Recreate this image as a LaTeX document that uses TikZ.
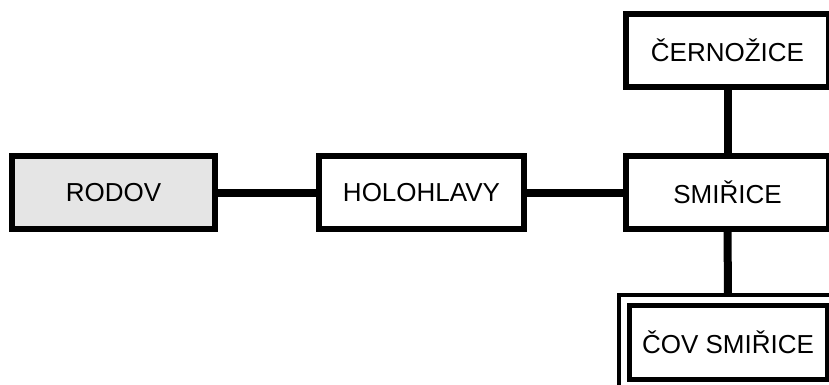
\documentclass[tikz,border=0pt]{standalone}
\usepackage{fontspec}
\setmainfont{Liberation Sans}
\begin{document}
\begin{tikzpicture}[x=1pt,y=-1pt,
  station/.style={draw=black, line width=6pt, fill=white, minimum width=203pt,
    minimum height=73pt, inner sep=0pt, font=\fontsize{26}{30}\selectfont},
  source/.style={station, fill=black!10},
  plant/.style={station, line width=5pt, minimum width=198pt, minimum height=74pt},
  link/.style={line width=8pt}]
\useasboundingbox (0,0) rectangle (829,385);
\clip (0,0) rectangle (829,385);
% stations
\node[source] (rodov) at (113.5,192.5) {RODOV};
\node[station, minimum width=205pt] (holo) at (421.5,192.5) {HOLOHLAVY};
\node[station] (smir) at (727.5,192.5) {SMIŘICE};
\node[station] (cern) at (727.5,50.5) {ČERNOŽICE};
\node[plant] (cov) at (728,342.5) {ČOV SMIŘICE};
% second frame around the treatment plant
\draw[line width=4pt] ([xshift=-7.5pt,yshift=-8.5pt]cov.south west) rectangle ([xshift=7.5pt,yshift=8.5pt]cov.north east);
\coordinate (covtop) at ([yshift=8.5pt]cov.north);
% pipelines
\draw[link] (rodov.east) -- (holo.west);
\draw[link] (holo.east) -- (smir.west);
\draw[link] (cern.south) -- (smir.north);
\draw[link] (smir.south) -- (covtop);
\end{tikzpicture}
\end{document}
